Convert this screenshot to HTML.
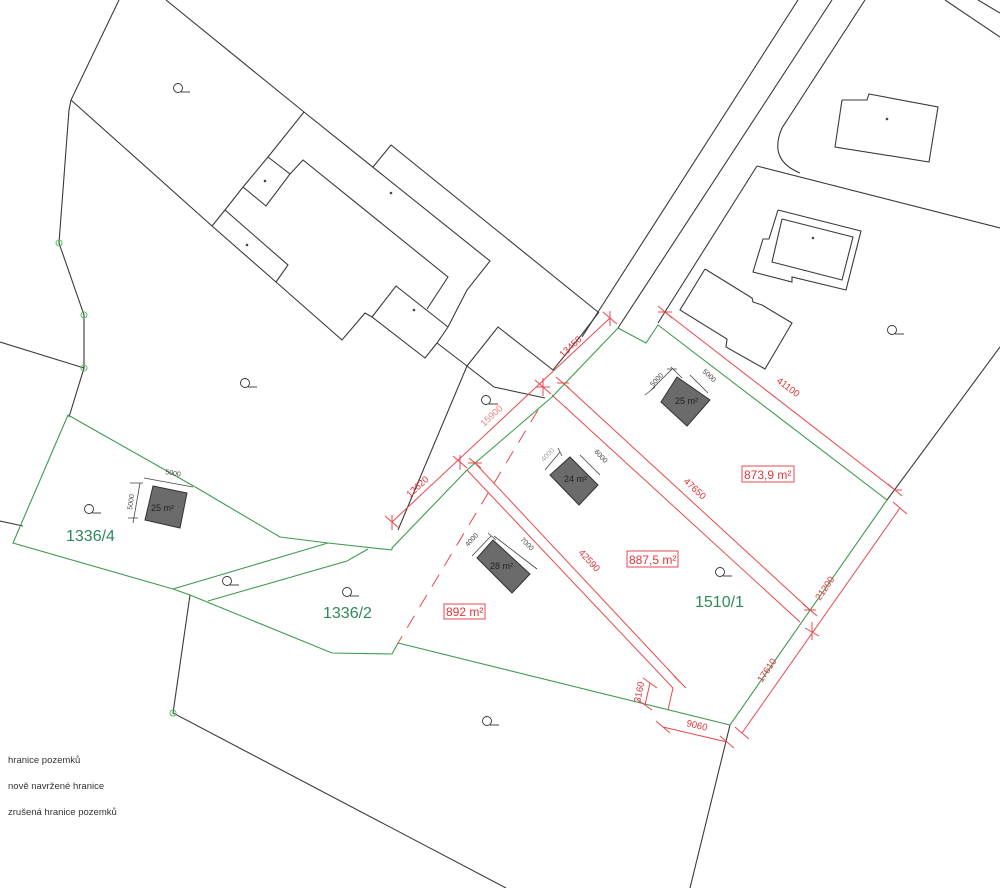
<!DOCTYPE html>
<html><head><meta charset="utf-8"><style>
html,body{margin:0;padding:0;background:#fff;}
svg{display:block;}
text{font-family:"Liberation Sans",sans-serif;}
.k{fill:none;stroke:#3a3a3a;stroke-width:1.1}
.g{fill:none;stroke:#3f9a4f;stroke-width:1.1}
.r{fill:none;stroke:#e8494d;stroke-width:1}
.rt{fill:#e0353a;font-size:9.5px}
.dt{fill:#444;font-size:7px}
.gt{fill:#2f8a5a;font-size:16px}
.b{fill:#6b6b6b;stroke:#333;stroke-width:1}
</style></head><body>
<svg width="1000" height="888" viewBox="0 0 1000 888" xmlns="http://www.w3.org/2000/svg">
<g class="k">
<polyline points="119,0 71,100 69,110 59,243 84,315 84,368 69,417"/>
<polyline points="166,0 304,112 490,261 467,290 448,327"/>
<polyline points="373,167 391,145 598,312"/>
<polyline points="71,100 212,226 276,282 342,340 365,313 372,317 425,358 437,343 448,327"/>
<polyline points="304,112 268,157 243,187 225,210 212,226"/>
<polyline points="268,157 290,174 266,206 243,187"/>
<polyline points="225,210 288,265 276,282"/>
<polyline points="290,174 303,160 448,277 427,309"/>
<polyline points="372,317 396,286 448,327"/>
<polyline points="437,343 467,366 494,387 545,398"/>
<polyline points="467,366 398,530"/>
<polyline points="467,366 498,327 553,370 583,333 599,312"/>
<polyline points="0,342 84,368"/>
<polyline points="0,521 23,526"/>
<polyline points="798,0 582,337"/>
<polyline points="832,0 618,328"/>
<path d="M865,0 L782,128 Q768,160 800,173"/>
<polyline points="757,166 1000,228"/>
<polyline points="757,166 658,323"/>
<polyline points="945,0 1000,37"/>
<polyline points="978,0 1000,13"/>
<polyline points="1000,347 887,500"/>
<polyline points="730,725 690,888"/>
<polyline points="190,595 173,713 506,888"/>
<polyline points="842,100 867,100 869,94 938,107 929,162 835,147 842,100"/>
<polyline points="778,210 861,231 846,290 792,277 792,282 753,272 763,239 769,239 778,210"/>
<polyline points="782,219 853,237 842,280 772,262 782,219"/>
<polyline points="705,269 752,298 753,302 762,305 792,323 765,369 726,347 727,339 680,310 705,269"/>
</g>
<g fill="#444">
<circle cx="265" cy="181" r="1.3"/><circle cx="391" cy="193" r="1.3"/><circle cx="247" cy="245" r="1.3"/><circle cx="414" cy="310" r="1.3"/>
<circle cx="887" cy="119" r="1.3"/><circle cx="813" cy="238" r="1.3"/>
</g>
<g class="g">
<polyline points="618,328 646,343 658,325 887,500 730,725 398,643 392,654 332,653 190,595"/>
<polyline points="618,328 552,397 467,470 392,548 392,550"/>
<polyline points="68,415 13,543 173,589"/>
<polyline points="68,415 197,488 280,537 328,543 392,550"/>
<polyline points="173,589 328,543"/>
<polyline points="208,601 347,561 368,549"/>
<polyline points="173,589 190,595"/>
</g>
<g fill="none" stroke="#55c060" stroke-width="1">
<circle cx="59" cy="243" r="3"/><circle cx="84" cy="315" r="3"/><circle cx="84" cy="368" r="3"/><circle cx="173" cy="713" r="3"/>
</g>
<g class="r">
<polyline points="610,318 392,522"/>
<polyline points="563,383 810,610"/>
<polyline points="552,395 800,622"/>
<polyline points="475,463 680,682"/>
<polyline points="467,470 673,688 668,710"/>
<polyline points="665,312 895,490"/>
<polyline points="900,508 742,733"/>
<polyline points="663,727 727,742"/>
<polyline points="650,683 645,705"/>
<polyline points="538,410 398,643" stroke-dasharray="14,10"/>
<path d="M603,312 L617,324 M610,311 L610,326"/>
<path d="M535,380 L551,394 M543,378 L543,396 M536,387 L550,387"/>
<path d="M453,456 L467,468 M460,455 L460,470"/>
<path d="M385,516 L399,528 M392,515 L392,530"/>
<path d="M556,377 L570,389 M557,383 L569,383"/>
<path d="M803,604 L817,616 M804,610 L816,610"/>
<path d="M805,628 L819,636 M812,622 L812,640"/>
<path d="M469,458 L481,468 M468,463 L482,463"/>
<path d="M674,676 L686,688"/>
<path d="M658,306 L672,318 M658,312 L672,312"/>
<path d="M888,484 L902,496 M895,490 L902,490"/>
<path d="M893,502 L907,514"/>
<path d="M735,727 L749,739"/>
<path d="M656,721 L670,733"/>
<path d="M720,736 L734,748"/>
<path d="M643,678 L657,688"/>
<path d="M638,700 L652,710"/>
</g>
<text class="rt" transform="translate(563,358) rotate(-43)">13450</text>
<text class="rt" transform="translate(484,427) rotate(-43)" fill-opacity="0.6">15900</text>
<text class="rt" transform="translate(410,498) rotate(-43)">12620</text>
<text class="rt" transform="translate(683,482) rotate(43)">47650</text>
<text class="rt" transform="translate(578,553) rotate(47)">42590</text>
<text class="rt" transform="translate(776,382) rotate(37)">41100</text>
<text class="rt" transform="translate(820,601) rotate(-56)">21200</text>
<text class="rt" transform="translate(762,683) rotate(-56)">17610</text>
<text class="rt" transform="translate(686,726) rotate(13)">9060</text>
<text class="rt" transform="translate(640,703) rotate(-78)">3160</text>
<polygon class="b" points="677,377 710,400 687,426 661,402"/>
<text x="675" y="404" style="font-size:9px" fill="#222">25 m²</text>
<polygon class="b" points="570,457 598,485 579,505 550,475"/>
<text x="564" y="482" style="font-size:9px" fill="#222">24 m²</text>
<polygon class="b" points="493,540 530,574 512,593 477,558"/>
<text x="490" y="569" style="font-size:9px" fill="#222">28 m²</text>
<polygon class="b" points="153,486 187,493 180,528 145,520"/>
<text x="151" y="511" style="font-size:9px" fill="#222">25 m²</text>
<g fill="none" stroke="#444" stroke-width="0.8">
<path d="M650,391 L672,369 M671,367 L682,378 M690,375 L708,393 M645,395 L655,387 M667,369 L677,369"/>
<path d="M545,470 L560,452 M580,455 L600,475 M558,448 L562,456"/>
<path d="M472,556 L491,536 M494,536 L537,569 M488,533 L496,540"/>
<path d="M133,523 L140,483 M144,478 L193,487 M128,518 L138,518 M130,483 L143,483"/>
</g>
<text class="dt" transform="translate(653,387) rotate(-47)">5000</text>
<text class="dt" transform="translate(702,372) rotate(43)">5000</text>
<text class="dt" transform="translate(544,462) rotate(-47)" fill-opacity="0.5">4000</text>
<text class="dt" transform="translate(594,452) rotate(47)">6000</text>
<text class="dt" transform="translate(468,547) rotate(-47)">4000</text>
<text class="dt" transform="translate(520,540) rotate(45)">7000</text>
<text class="dt" transform="translate(132,510) rotate(-82)">5000</text>
<text class="dt" transform="translate(165,474) rotate(10)">5000</text>
<g fill="none" stroke="#e8494d" stroke-width="1">
<rect x="742" y="466" width="52" height="16"/>
<rect x="627" y="551" width="51" height="16"/>
<rect x="444" y="604" width="41" height="15"/>
</g>
<text x="744" y="479" style="font-size:12px" fill="#e0353a">873,9 m²</text>
<text x="629" y="564" style="font-size:12px" fill="#e0353a">887,5 m²</text>
<text x="446" y="616" style="font-size:12px" fill="#e0353a">892 m²</text>
<text class="gt" x="695" y="607">1510/1</text>
<text class="gt" x="323" y="618">1336/2</text>
<text class="gt" x="66" y="541">1336/4</text>
<g fill="none" stroke="#333" stroke-width="0.9">
<g transform="translate(178,88)"><circle r="4.5"/><path d="M3,4 L12,4"/></g>
<g transform="translate(245,383)"><circle r="4.5"/><path d="M3,4 L12,4"/></g>
<g transform="translate(486,400)"><circle r="4.5"/><path d="M3,4 L12,4"/></g>
<g transform="translate(89,509)"><circle r="4.5"/><path d="M3,4 L12,4"/></g>
<g transform="translate(227,581)"><circle r="4.5"/><path d="M3,4 L12,4"/></g>
<g transform="translate(347,592)"><circle r="4.5"/><path d="M3,4 L12,4"/></g>
<g transform="translate(720,572)"><circle r="4.5"/><path d="M3,4 L12,4"/></g>
<g transform="translate(487,721)"><circle r="4.5"/><path d="M3,4 L12,4"/></g>
<g transform="translate(892,330)"><circle r="4.5"/><path d="M3,4 L12,4"/></g>
</g>
<text x="8" y="763" style="font-size:9.5px" fill="#333">hranice pozemků</text>
<text x="8" y="789" style="font-size:9.5px" fill="#333">nově navržené hranice</text>
<text x="8" y="815" style="font-size:9.5px" fill="#333">zrušená hranice pozemků</text>
</svg>
</body></html>
